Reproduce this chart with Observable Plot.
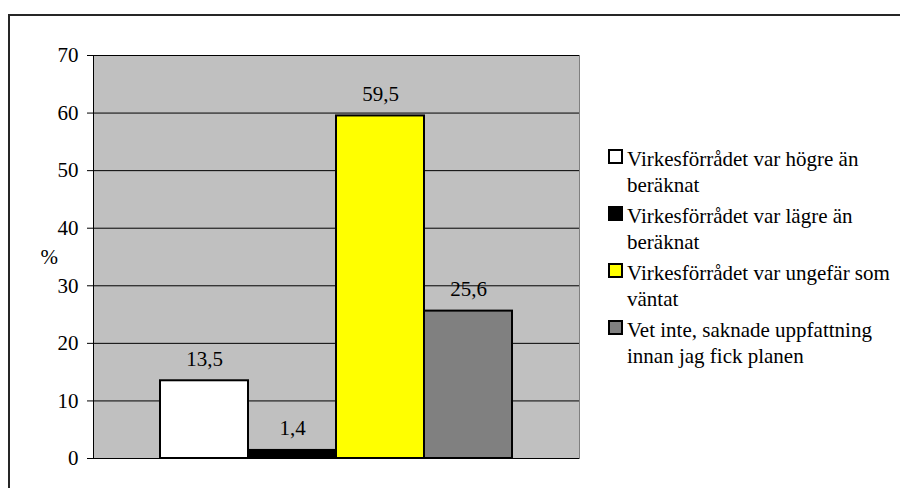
<!DOCTYPE html>
<html><head><meta charset="utf-8">
<script src="https://cdn.jsdelivr.net/npm/d3@7"></script>
<script src="https://cdn.jsdelivr.net/npm/@observablehq/plot@0.6"></script>
<style>
body{margin:0;background:#fff}
#wrap{position:relative;width:900px;height:488px;overflow:hidden;font-family:"Liberation Serif",Tinos,"Times New Roman",Times,"Nimbus Roman","DejaVu Serif",serif;color:#000}
#border{position:absolute;left:8px;top:14px;width:1000px;height:1000px;border:2px solid #262626;box-sizing:border-box}
#chart{position:absolute;left:0;top:0}
.item{position:absolute;left:608px}
.box{position:absolute;left:0;top:0;width:15px;height:15px;border:2px solid #000;box-sizing:border-box}
.txt{position:absolute;left:19px;top:-3px;font-size:21px;line-height:26px;white-space:nowrap}
#chart svg text{font-family:"Liberation Serif",Tinos,"Times New Roman",Times,"Nimbus Roman","DejaVu Serif",serif}
</style></head>
<body>
<div id="wrap"><div id="border"></div><div id="chart"></div><div id="legend"></div></div>
<script>
const categories = [
  "Virkesförrådet var högre än beräknat",
  "Virkesförrådet var lägre än beräknat",
  "Virkesförrådet var ungefär som väntat",
  "Vet inte, saknade uppfattning innan jag fick planen"
];
const legendLines = [
  ["Virkesförrådet var högre än", "beräknat"],
  ["Virkesförrådet var lägre än", "beräknat"],
  ["Virkesförrådet var ungefär som", "väntat"],
  ["Vet inte, saknade uppfattning", "innan jag fick planen"]
];
const values = [13.5, 1.4, 59.5, 25.6];
const colors = ["#ffffff", "#000000", "#ffff00", "#808080"];
const yTicks = [0, 10, 20, 30, 40, 50, 60, 70];
const yLabel = "%";

const data = categories.map((c, i) => ({cat: c, value: values[i]}));
const fmt = v => String(v).replace(".", ",");
const serif = '"Liberation Serif",Tinos,"Times New Roman",Times,"Nimbus Roman","DejaVu Serif",serif';

const chart = Plot.plot({
  width: 900, height: 488,
  marginLeft: 93, marginRight: 321, marginTop: 55, marginBottom: 30,
  style: {fontFamily: serif, fontSize: "21px", color: "#000", background: "transparent", overflow: "visible"},
  x: {domain: categories, paddingInner: 0, paddingOuter: 0.746, axis: null},
  y: {domain: [0, 70], axis: null},
  color: {domain: categories, range: colors},
  marks: [
    Plot.frame({fill: "#c0c0c0", stroke: "#808080"}),
    Plot.ruleY(yTicks, {stroke: "#000", strokeWidth: 1}),
    Plot.barY(data, {x: "cat", y: "value", fill: "cat", stroke: "#000", strokeWidth: 2}),
    Plot.text(data, {x: "cat", y: "value", text: d => fmt(d.value), dy: -22, fontSize: 21}),
    Plot.axisY({ticks: yTicks, tickSize: 6, tickPadding: 9, tickFormat: d => String(d), label: null, fontSize: 21, stroke: "#000"}),
    Plot.frame({anchor: "left", stroke: "#000"}),
    Plot.text([yLabel], {frameAnchor: "left", dx: -53, text: d => d, fontSize: 21})
  ]
});
document.getElementById("chart").appendChild(chart);

const legend = document.getElementById("legend");
legendLines.forEach((lines, i) => {
  const item = document.createElement("div");
  item.className = "item";
  item.style.top = (149 + 57 * i) + "px";
  const box = document.createElement("div");
  box.className = "box";
  box.style.background = colors[i];
  const txt = document.createElement("div");
  txt.className = "txt";
  txt.innerHTML = lines.join("<br>");
  item.appendChild(box);
  item.appendChild(txt);
  legend.appendChild(item);
});
</script>
</body></html>
